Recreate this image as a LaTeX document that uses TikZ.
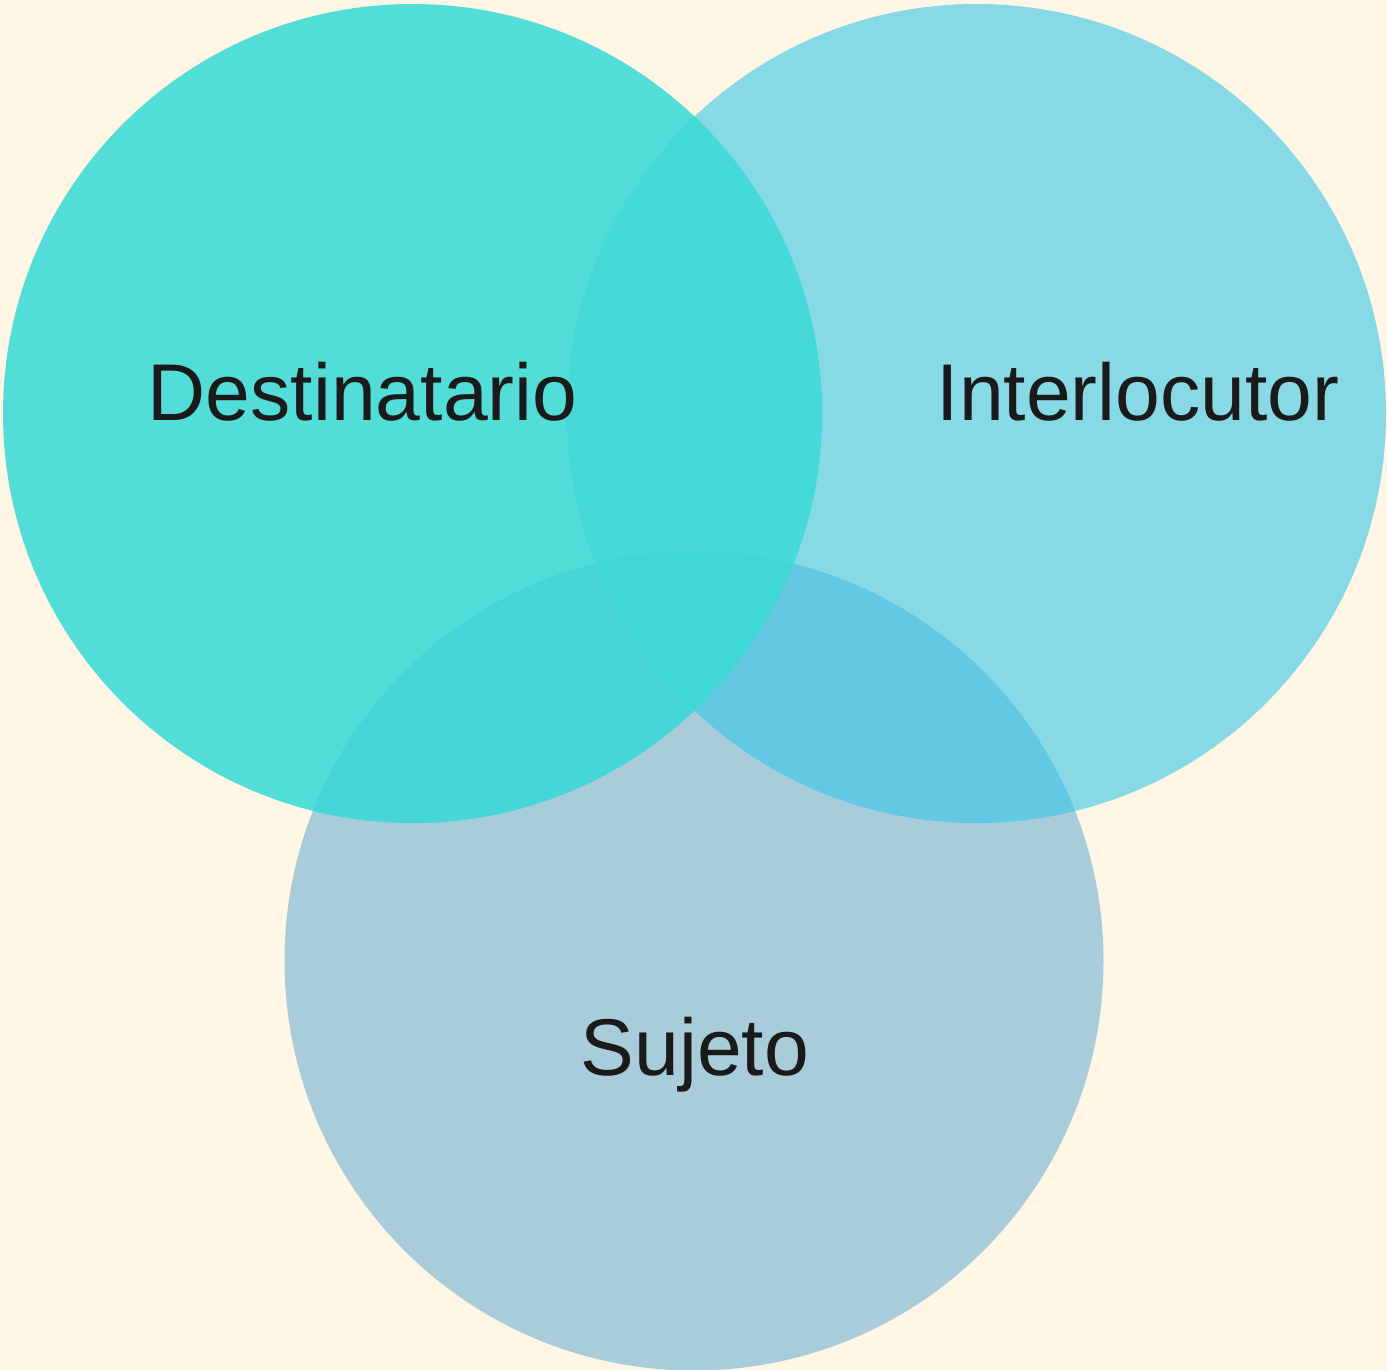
\documentclass[tikz,border=0pt]{standalone}
\usepackage{fontspec}
\setmainfont{Liberation Sans}
\definecolor{bg}{HTML}{FFF6E5}
\definecolor{cD}{HTML}{52DDD8}
\definecolor{cI}{HTML}{88D9E6}
\definecolor{cS}{HTML}{A9CCDA}
\definecolor{cDI}{HTML}{45D9D8}
\definecolor{cDS}{HTML}{47D6D8}
\definecolor{cIS}{HTML}{63C8E4}
\definecolor{cDIS}{HTML}{3FD8D6}
\definecolor{txt}{HTML}{1A1A1A}
\begin{document}
\begin{tikzpicture}[x=1pt,y=-1pt,
  lbl/.style={text=txt,font=\fontsize{80.5}{96}\selectfont,anchor=base,inner sep=0pt}]
\fill[bg] (0,0) rectangle (1387,1370);
\useasboundingbox (0,0) rectangle (1387,1370);
\def\pD{(412.5,413.5) circle[radius=409.5]}
\def\pI{(976.5,413.5) circle[radius=409.5]}
\def\pS{(694,961) circle[radius=409.5]}
\fill[cS] \pS;
\fill[cI] \pI;
\fill[cD] \pD;
\begin{scope}\clip \pD; \fill[cDI] \pI; \end{scope}
\begin{scope}\clip \pD; \fill[cDS] \pS; \end{scope}
\begin{scope}\clip \pI; \fill[cIS] \pS; \end{scope}
\begin{scope}\clip \pD; \clip \pI; \fill[cDIS] \pS; \end{scope}
\node[lbl] (dest) at (362.5,420) {Destinatario};
\node[lbl] (inter) at (1138,420) {Interlocutor};
\node[lbl] (suj) at (695,1075) {Sujeto};
\end{tikzpicture}
\end{document}
